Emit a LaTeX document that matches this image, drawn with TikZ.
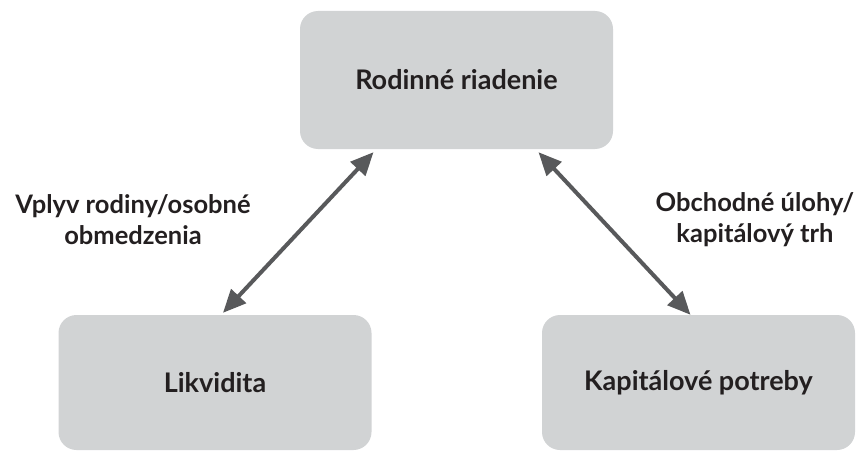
\documentclass[tikz,border=0pt]{standalone}
\usepackage{fontspec}
\setmainfont{Lato}
\usetikzlibrary{arrows.meta}
\definecolor{boxgray}{HTML}{D1D3D4}
\definecolor{arrowgray}{HTML}{58595B}
\definecolor{textdark}{HTML}{231F20}
\tikzset{
  box/.style={fill=boxgray, rounded corners=18pt, minimum width=313pt, minimum height=138pt,
    text=textdark, font=\fontsize{27}{32}\selectfont\bfseries},
  lbl/.style={text=textdark, align=center, font=\fontsize{25.5}{31}\selectfont\bfseries},
  link/.style={arrowgray, line width=4pt,
    {Triangle[length=23pt,width=20pt]}-{Triangle[length=23pt,width=20pt]}}
}
\begin{document}
\begin{tikzpicture}[x=1pt,y=-1pt]
\useasboundingbox (0,0) rectangle (859,452);

% the three boxes
\node[box] (fam) at (456.5,80) {Rodinné riadenie};
\node[box, minimum height=135pt] (liq) at (215,382.5) {Likvidita};
\node[box, minimum height=135pt] (cap) at (698.5,382.5) {Kapitálové potreby};

% connections
\draw[link] ([xshift=-83pt,yshift=-3pt]fam.south) -- ([xshift=8pt,yshift=2pt]liq.north);
\draw[link] ([xshift=82pt,yshift=-3pt]fam.south) -- ([xshift=-8pt,yshift=0pt]cap.north);

% labels
\node[lbl] (lblleft) at (133,220) {Vplyv rodiny/osobné\\obmedzenia};
\node[lbl] (lblright) at (755,220) {Obchodné úlohy/\\kapitálový trh};
\end{tikzpicture}
\end{document}
